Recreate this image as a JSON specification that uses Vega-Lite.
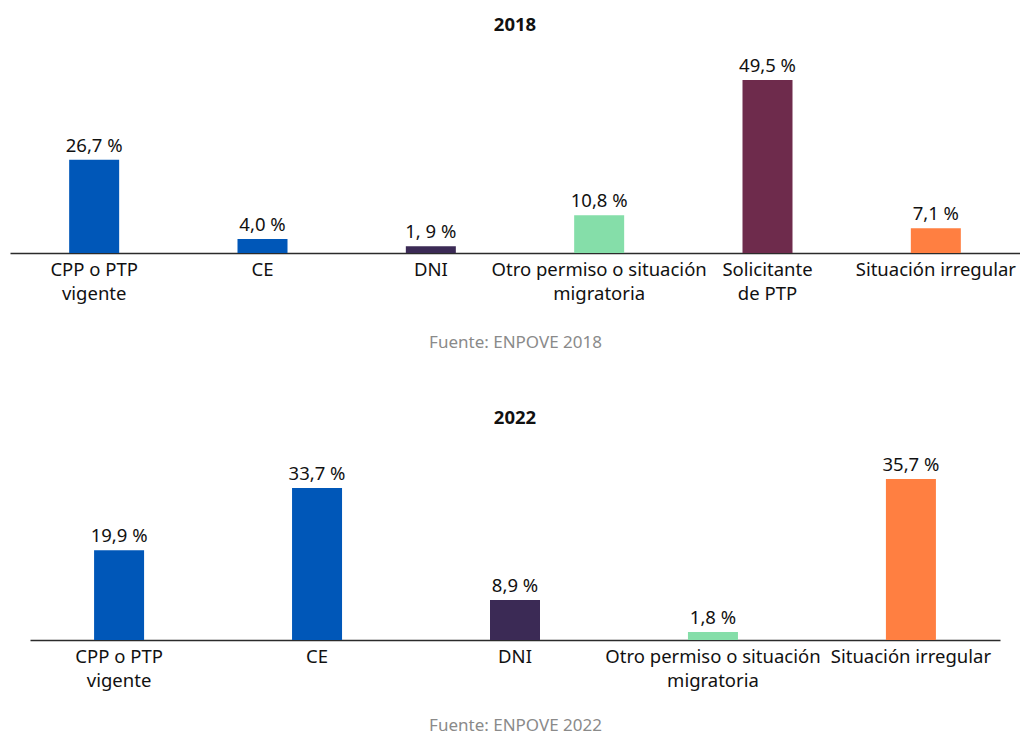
{
  "$schema": "https://vega.github.io/schema/vega-lite/v6.json",
  "background": "white",
  "padding": {"left": 10, "right": 0, "top": 15, "bottom": 6},
  "center": true,
  "spacing": 57,
  "datasets": {
    "y2018": [
      {"categoria": "CPP o PTP vigente", "porcentaje": 26.7, "etiqueta": "26,7 %"},
      {"categoria": "CE", "porcentaje": 4.0, "etiqueta": "4,0 %"},
      {"categoria": "DNI", "porcentaje": 1.9, "etiqueta": "1, 9 %"},
      {"categoria": "Otro permiso o situación migratoria", "porcentaje": 10.8, "etiqueta": "10,8 %"},
      {"categoria": "Solicitante de PTP", "porcentaje": 49.5, "etiqueta": "49,5 %"},
      {"categoria": "Situación irregular", "porcentaje": 7.1, "etiqueta": "7,1 %"}
    ],
    "y2022": [
      {"categoria": "CPP o PTP vigente", "porcentaje": 19.9, "etiqueta": "19,9 %"},
      {"categoria": "CE", "porcentaje": 33.7, "etiqueta": "33,7 %"},
      {"categoria": "DNI", "porcentaje": 8.9, "etiqueta": "8,9 %"},
      {"categoria": "Otro permiso o situación migratoria", "porcentaje": 1.8, "etiqueta": "1,8 %"},
      {"categoria": "Situación irregular", "porcentaje": 35.7, "etiqueta": "35,7 %"}
    ]
  },
  "vconcat": [
    {
      "title": {"text": "2018"},
      "width": 1010,
      "height": 207,
      "data": {"name": "y2018"},
      "encoding": {
        "x": {
          "field": "categoria",
          "type": "nominal",
          "sort": null,
          "title": "Fuente: ENPOVE 2018",
          "axis": {
            "labelAngle": 0,
            "labelExpr": "datum.value == 'CPP o PTP vigente' ? ['CPP o PTP', 'vigente'] : datum.value == 'Otro permiso o situación migratoria' ? ['Otro permiso o situación', 'migratoria'] : datum.value == 'Solicitante de PTP' ? ['Solicitante', 'de PTP'] : datum.value",
            "titlePadding": 32
          }
        },
        "y": {
          "field": "porcentaje",
          "type": "quantitative",
          "scale": {"domain": [0, 59.2], "nice": false},
          "axis": null
        },
        "color": {
          "field": "categoria",
          "type": "nominal",
          "scale": {
            "domain": ["CPP o PTP vigente", "CE", "DNI", "Otro permiso o situación migratoria", "Solicitante de PTP", "Situación irregular"],
            "range": ["#0057B8", "#0057B8", "#3B2A55", "#85DEA9", "#6E2B4C", "#FF7F41"]
          },
          "legend": null
        }
      },
      "layer": [
        {"mark": {"type": "bar", "width": 50}},
        {
          "mark": {"type": "text", "dy": -14, "fontSize": 18.5, "font": "Noto Sans"},
          "encoding": {"text": {"field": "etiqueta"}, "color": {"value": "#111111"}}
        }
      ]
    },
    {
      "title": {"text": "2022"},
      "width": 970,
      "height": 201,
      "data": {"name": "y2022"},
      "encoding": {
        "x": {
          "field": "categoria",
          "type": "nominal",
          "sort": null,
          "title": "Fuente: ENPOVE 2022",
          "scale": {"paddingOuter": 0},
          "axis": {
            "labelAngle": 0,
            "labelExpr": "datum.value == 'CPP o PTP vigente' ? ['CPP o PTP', 'vigente'] : datum.value == 'Otro permiso o situación migratoria' ? ['Otro permiso o situación', 'migratoria'] : datum.value == 'Solicitante de PTP' ? ['Solicitante', 'de PTP'] : datum.value",
            "titlePadding": 28
          }
        },
        "y": {
          "field": "porcentaje",
          "type": "quantitative",
          "scale": {"domain": [0, 44.6], "nice": false},
          "axis": null
        },
        "color": {
          "field": "categoria",
          "type": "nominal",
          "scale": {
            "domain": ["CPP o PTP vigente", "CE", "DNI", "Otro permiso o situación migratoria", "Situación irregular"],
            "range": ["#0057B8", "#0057B8", "#3B2A55", "#85DEA9", "#FF7F41"]
          },
          "legend": null
        }
      },
      "layer": [
        {"mark": {"type": "bar", "width": 50}},
        {
          "mark": {"type": "text", "dy": -14, "fontSize": 18.5, "font": "Noto Sans"},
          "encoding": {"text": {"field": "etiqueta"}, "color": {"value": "#111111"}}
        }
      ]
    }
  ],
  "resolve": {"scale": {"color": "independent", "x": "independent", "y": "independent"}},
  "config": {
    "font": "Noto Sans",
    "view": {"stroke": null},
    "title": {"fontSize": 18.5, "fontWeight": "bold", "color": "#111111", "font": "Noto Sans", "offset": 12, "anchor": "middle"},
    "axis": {
      "domainColor": "#2b2b2b",
      "domainWidth": 1.6,
      "ticks": false,
      "grid": false,
      "labelFont": "Noto Sans",
      "labelFontSize": 18.5,
      "labelColor": "#111111",
      "labelPadding": 7,
      "labelLineHeight": 24,
      "labelBaseline": "top",
      "labelLimit": 0,
      "labelOverlap": false,
      "titleFont": "Noto Sans",
      "titleFontSize": 17,
      "titleFontWeight": "normal",
      "titleColor": "#8a8a8a"
    }
  }
}
